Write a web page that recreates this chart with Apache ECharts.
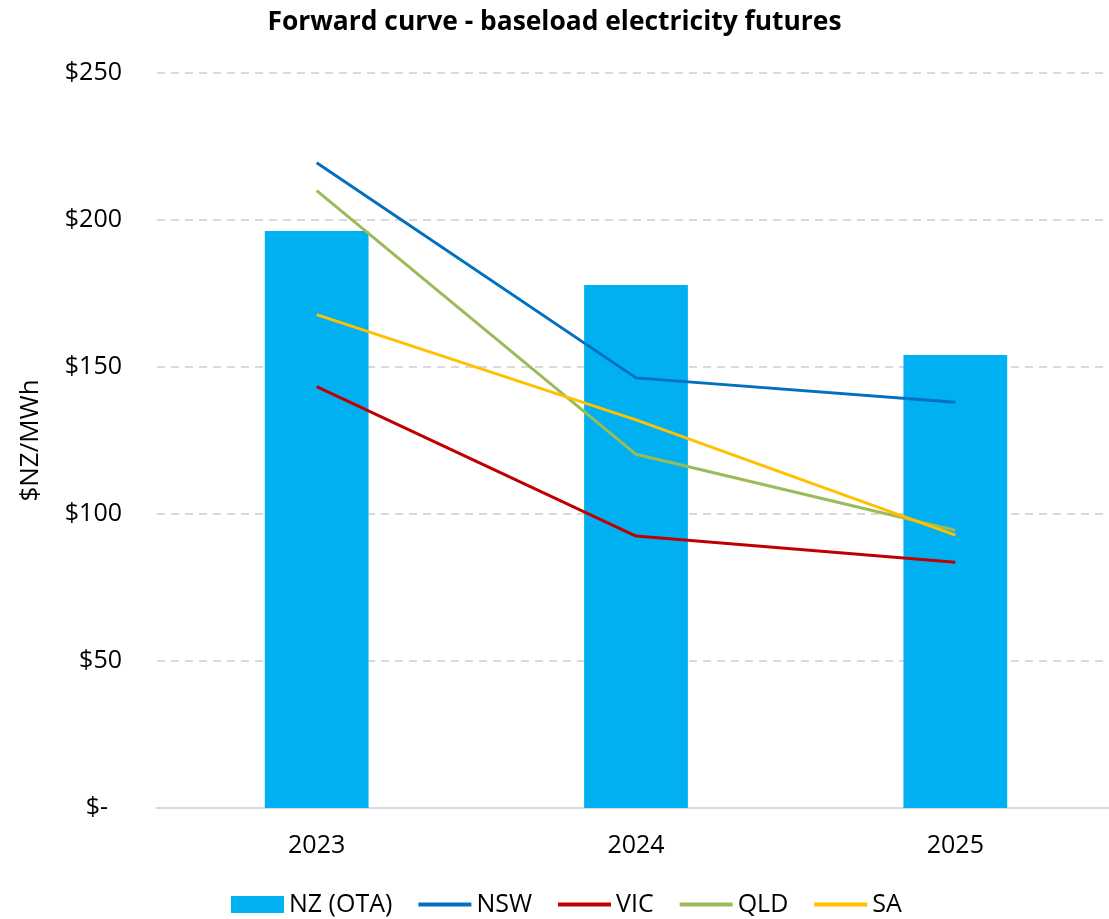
<!DOCTYPE html>
<html>
<head>
<meta charset="utf-8">
<script src="https://cdn.jsdelivr.net/npm/echarts@6/dist/echarts.min.js"></script>
<style>
  html, body { margin: 0; padding: 0; background: #ffffff; }
  #chart { width: 1109px; height: 919px; }
</style>
</head>
<body>
<div id="chart"></div>
<script>
// Contract years on the forward curve
const years = ['2023', '2024', '2025'];

// Baseload futures prices, $NZ/MWh
const nzOta = [196.3, 177.9, 154.1];
const nsw = [219.5, 146.3, 138.0];
const vic = [143.3, 92.5, 83.6];
const qld = [210.0, 120.3, 94.5];
const sa = [167.8, 132.0, 92.8];

// Y axis ticks
const yTicks = [0, 50, 100, 150, 200, 250];

const FONT = '"Open Sans", "Noto Sans", sans-serif';

// Accounting-style label: zero shows as a dash with trailing padding
function money(v) {
  return v === 0 ? '{z|$-}' : '$' + v;
}

const chart = echarts.init(document.getElementById('chart'), null, { renderer: 'canvas' });

const lineIcon = 'path://M0,0H53V4H0Z';

function lineSeries(name, data, color) {
  return {
    name: name,
    type: 'line',
    data: data,
    symbol: 'none',
    showSymbol: false,
    lineStyle: { color: color, width: 3 },
    itemStyle: { color: color },
    z: 3
  };
}

chart.setOption({
  animation: false,
  backgroundColor: '#ffffff',
  textStyle: { fontFamily: FONT },
  title: {
    text: 'Forward curve - baseload electricity futures',
    left: 'center',
    top: 4,
    textStyle: { fontFamily: FONT, fontSize: 26.4, fontWeight: 'bold', color: '#000000' }
  },
  legend: {
    left: 226,
    top: 887,
    itemWidth: 53,
    itemHeight: 17,
    itemGap: 26,
    symbolKeepAspect: true,
    textStyle: { fontFamily: FONT, fontSize: 25, color: '#000000' },
    data: [
      { name: 'NZ (OTA)', icon: 'rect' },
      { name: 'NSW', icon: lineIcon },
      { name: 'VIC', icon: lineIcon },
      { name: 'QLD', icon: lineIcon },
      { name: 'SA', icon: lineIcon }
    ]
  },
  grid: { left: 157, top: 73, width: 958, height: 735, outerBoundsMode: 'none', containLabel: false },
  xAxis: {
    type: 'category',
    data: years,
    axisLine: { lineStyle: { color: '#d9d9d9', width: 2 } },
    axisTick: { show: false },
    axisLabel: { fontFamily: FONT, fontSize: 25, color: '#000000', margin: 25 }
  },
  yAxis: {
    type: 'value',
    min: yTicks[0],
    max: yTicks[yTicks.length - 1],
    interval: 50,
    name: '$NZ/MWh',
    nameLocation: 'middle',
    nameGap: 113,
    nameTextStyle: { fontFamily: FONT, fontSize: 26, color: '#000000' },
    axisLine: { show: false },
    axisTick: { show: false },
    splitLine: { lineStyle: { color: '#d9d9d9', width: 2, type: [8, 6] } },
    axisLabel: {
      fontFamily: FONT,
      fontSize: 25,
      color: '#000000',
      align: 'right',
      margin: 35,
      formatter: money,
      rich: {
        z: { fontFamily: FONT, fontSize: 25, color: '#000000', padding: [0, 14, 0, 0] }
      }
    }
  },
  series: [
    {
      name: 'NZ (OTA)',
      type: 'bar',
      data: nzOta,
      barWidth: '32.5%',
      itemStyle: { color: '#00B0F0' },
      z: 2
    },
    lineSeries('NSW', nsw, '#0070C0'),
    lineSeries('VIC', vic, '#C00000'),
    lineSeries('QLD', qld, '#9BBB59'),
    lineSeries('SA', sa, '#FFC000')
  ]
});
</script>
</body>
</html>
